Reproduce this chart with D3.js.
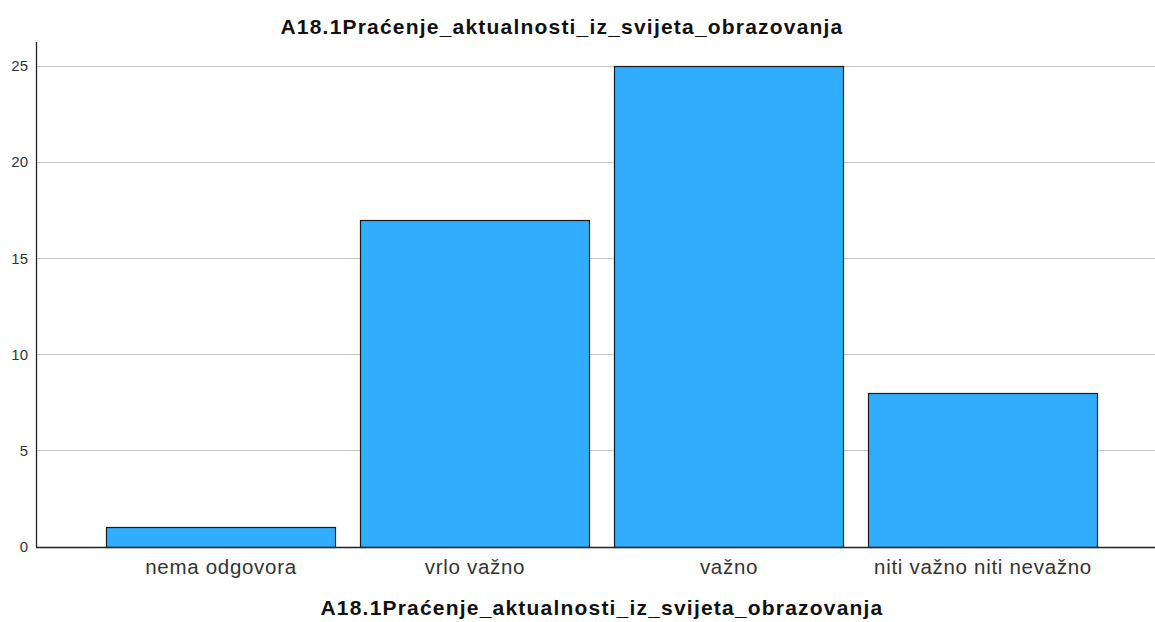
<!DOCTYPE html>
<html>
<head>
<meta charset="utf-8">
<script src="https://cdn.jsdelivr.net/npm/d3@7"></script>
<style>
  html, body { margin: 0; padding: 0; background: #fff; }
  svg { display: block; font-family: "Liberation Sans", Arial, sans-serif; }
</style>
</head>
<body>
<svg id="chart" width="1155" height="622"></svg>
<script>
const title = "A18.1Praćenje_aktualnosti_iz_svijeta_obrazovanja";
const categories = ["nema odgovora", "vrlo važno", "važno", "niti važno niti nevažno"];
const counts = [1, 17, 25, 8];
const yTicks = [0, 5, 10, 15, 20, 25];

const svg = d3.select("#chart");
const plot = { left: 36, right: 1155, top: 42, bottom: 546.5 };

const x = d3.scaleBand()
  .domain(categories)
  .range([94, 1110])
  .paddingInner(0.0984)
  .paddingOuter(0.0492);

const y = d3.scaleLinear()
  .domain([0, 26.25])
  .range([plot.bottom, plot.top]);

// horizontal gridlines
svg.append("g")
  .selectAll("line")
  .data(yTicks.filter(d => d > 0))
  .join("line")
  .attr("x1", plot.left)
  .attr("x2", plot.right)
  .attr("y1", d => Math.round(y(d)) + 0.5)
  .attr("y2", d => Math.round(y(d)) + 0.5)
  .attr("stroke", "#c4c4c4")
  .attr("stroke-width", 1);

// bars
svg.append("g")
  .selectAll("rect")
  .data(categories.map((c, i) => ({ c, v: counts[i] })))
  .join("rect")
  .attr("x", d => Math.round(x(d.c)) + 0.5)
  .attr("y", d => Math.round(y(d.v)) + 0.5)
  .attr("width", Math.round(x.bandwidth()))
  .attr("height", d => Math.round(y(0)) - Math.round(y(d.v)))
  .attr("fill", "#30adff")
  .attr("stroke", "#1a1a1a")
  .attr("stroke-width", 1.2);

// y axis
const yAxis = svg.append("g")
  .attr("transform", `translate(${plot.left + 0.5},0)`)
  .call(d3.axisLeft(y).tickValues(yTicks).tickSize(0).tickPadding(8.5));
yAxis.select(".domain").remove();
yAxis.selectAll("text")
  .attr("font-size", 15)
  .attr("fill", "#333")
  .attr("font-family", "Liberation Sans, Arial, sans-serif");

svg.append("line")
  .attr("x1", plot.left + 0.5).attr("x2", plot.left + 0.5)
  .attr("y1", plot.top).attr("y2", Math.round(plot.bottom) + 0.5)
  .attr("stroke", "#222").attr("stroke-width", 1.3);

// x axis
const xAxis = svg.append("g")
  .attr("transform", `translate(0,${Math.round(plot.bottom) + 0.5})`)
  .call(d3.axisBottom(x).tickSize(0).tickPadding(12));
xAxis.select(".domain").remove();
xAxis.selectAll("text")
  .attr("font-size", 20.5)
  .attr("fill", "#333")
  .attr("letter-spacing", "0.7px")
  .attr("font-family", "Liberation Sans, Arial, sans-serif");

svg.append("line")
  .attr("x1", plot.left).attr("x2", plot.right)
  .attr("y1", Math.round(plot.bottom) + 0.5).attr("y2", Math.round(plot.bottom) + 0.5)
  .attr("stroke", "#222").attr("stroke-width", 1.3);

// chart title
svg.append("text")
  .attr("x", 562)
  .attr("y", 33.5)
  .attr("text-anchor", "middle")
  .attr("font-size", 21)
  .attr("font-weight", "bold")
  .attr("letter-spacing", "1.2px")
  .attr("fill", "#111")
  .text(title);

// x axis title
svg.append("text")
  .attr("x", 602)
  .attr("y", 615)
  .attr("text-anchor", "middle")
  .attr("font-size", 21)
  .attr("font-weight", "bold")
  .attr("letter-spacing", "1.2px")
  .attr("fill", "#111")
  .text(title);
</script>
</body>
</html>
